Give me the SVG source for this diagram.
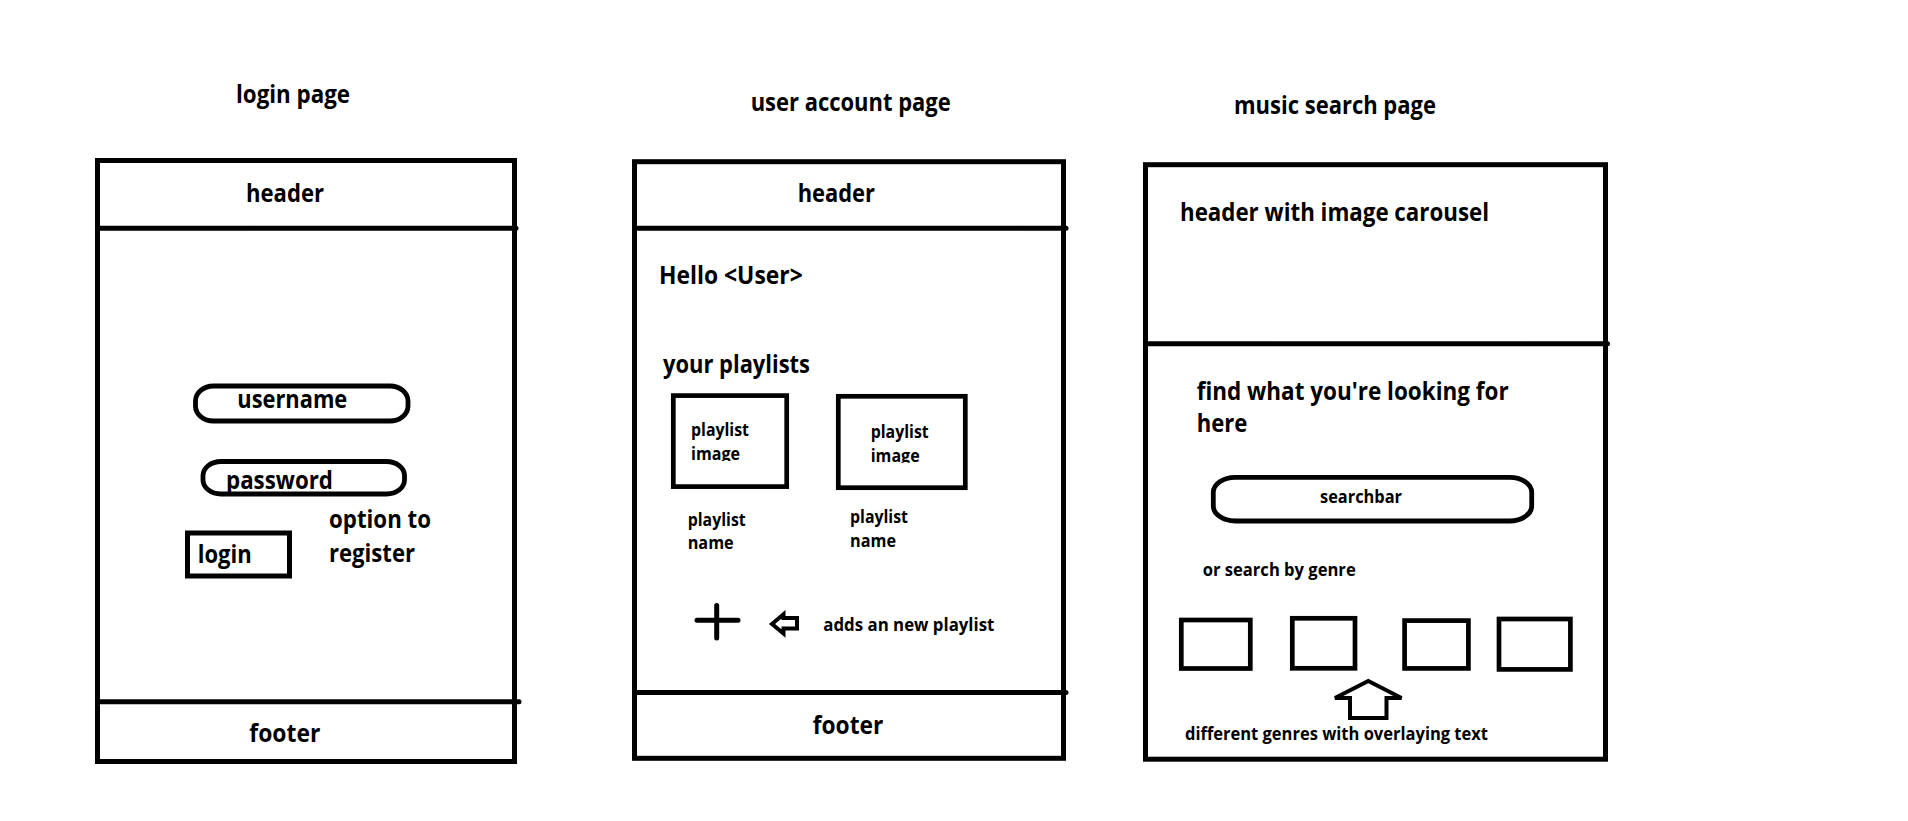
<svg xmlns="http://www.w3.org/2000/svg" width="1908" height="821" viewBox="0 0 1908 821">
  <style>
    .t { font-family: "Open Sans", Lato, "Liberation Sans", sans-serif; font-weight: 700; fill: #000; }
    .lg { font-size: 25px; }
    .sm { font-size: 18.5px; }
    .frame { fill: none; stroke: #000; stroke-width: 5; }
    .div { stroke: #000; stroke-width: 5; stroke-linecap: round; }
    .box { fill: none; stroke: #000; stroke-width: 4.7; }
    .pill { fill: none; stroke: #000; stroke-width: 4.8; }
    .icon { fill: none; stroke: #000; stroke-width: 4; stroke-linejoin: miter; }
  </style>
  <defs>
    <!-- the image labels are cut off just under the baseline -->
    <clipPath id="clipImg1"><rect x="680" y="400" width="100" height="61"/></clipPath>
    <clipPath id="clipImg2"><rect x="845" y="400" width="110" height="62.7"/></clipPath>
  </defs>
  <rect width="1908" height="821" fill="#fff"/>

  <!-- ===== login page ===== -->
  <g id="login-page">
    <text class="t lg" x="236" y="103" textLength="114" lengthAdjust="spacingAndGlyphs">login page</text>
    <g id="login-frame">
      <rect class="frame" x="97.5" y="160.5" width="417" height="601"/>
      <line class="div" x1="97.5" y1="228.3" x2="516" y2="228.3"/>
      <line class="div" x1="97.5" y1="701.7" x2="519" y2="701.7"/>
    </g>
    <g id="login-header">
      <text class="t lg" x="246" y="202" textLength="78" lengthAdjust="spacingAndGlyphs">header</text>
    </g>
    <g id="login-username">
      <rect class="pill" x="195.5" y="386" width="212.5" height="35" rx="18" ry="15"/>
      <text class="t lg" x="237.3" y="407.5" textLength="110" lengthAdjust="spacingAndGlyphs">username</text>
    </g>
    <g id="login-password">
      <rect class="pill" x="203" y="461.5" width="201.5" height="32.5" rx="18" ry="14"/>
      <text class="t lg" x="226" y="489" textLength="107" lengthAdjust="spacingAndGlyphs">password</text>
    </g>
    <g id="login-button">
      <rect class="frame" x="187.5" y="533" width="102" height="43"/>
      <text class="t lg" x="197.7" y="562.5" textLength="54" lengthAdjust="spacingAndGlyphs">login</text>
    </g>
    <g id="login-register">
      <text class="t lg" x="329" y="527.5" textLength="102" lengthAdjust="spacingAndGlyphs">option to</text>
      <text class="t lg" x="329" y="561.8" textLength="86" lengthAdjust="spacingAndGlyphs">register</text>
    </g>
    <g id="login-footer">
      <text class="t lg" x="249.3" y="742.2" textLength="71" lengthAdjust="spacingAndGlyphs">footer</text>
    </g>
  </g>

  <!-- ===== user account page ===== -->
  <g id="account-page">
    <text class="t lg" x="750.7" y="110.5" textLength="200" lengthAdjust="spacingAndGlyphs">user account page</text>
    <g id="account-frame">
      <rect class="frame" x="634.5" y="161.7" width="429" height="596.6"/>
      <line class="div" x1="634.5" y1="228.2" x2="1066" y2="228.2"/>
      <line class="div" x1="634.5" y1="692.5" x2="1066" y2="692.5"/>
    </g>
    <g id="account-header">
      <text class="t lg" x="797.7" y="202" textLength="77.3" lengthAdjust="spacingAndGlyphs">header</text>
    </g>
    <g id="account-greeting">
      <text class="t lg" x="659" y="284" textLength="143.7" lengthAdjust="spacingAndGlyphs">Hello &lt;User&gt;</text>
    </g>
    <g id="account-playlists-title">
      <text class="t lg" x="663" y="372.5" textLength="147" lengthAdjust="spacingAndGlyphs">your playlists</text>
    </g>
    <g id="playlist-1">
      <rect class="box" x="673.3" y="395.6" width="113.4" height="91"/>
      <text class="t sm" x="691" y="435.5" textLength="58" lengthAdjust="spacingAndGlyphs">playlist</text>
      <text class="t sm" x="691" y="460.3" textLength="49" lengthAdjust="spacingAndGlyphs" clip-path="url(#clipImg1)">image</text>
      <text class="t sm" x="687.7" y="525.5" textLength="58" lengthAdjust="spacingAndGlyphs">playlist</text>
      <text class="t sm" x="687.7" y="548.8" textLength="46" lengthAdjust="spacingAndGlyphs">name</text>
    </g>
    <g id="playlist-2">
      <rect class="box" x="838.3" y="396.3" width="127" height="91.4"/>
      <text class="t sm" x="870.7" y="437.8" textLength="58" lengthAdjust="spacingAndGlyphs">playlist</text>
      <text class="t sm" x="870.7" y="462" textLength="49" lengthAdjust="spacingAndGlyphs" clip-path="url(#clipImg2)">image</text>
      <text class="t sm" x="850" y="523.2" textLength="58" lengthAdjust="spacingAndGlyphs">playlist</text>
      <text class="t sm" x="850" y="547.2" textLength="46" lengthAdjust="spacingAndGlyphs">name</text>
    </g>
    <g id="add-playlist">
      <line class="div" x1="697" y1="620.3" x2="738" y2="620.3"/>
      <line class="div" x1="716.7" y1="605.5" x2="716.7" y2="638"/>
      <text class="t sm" x="823.3" y="630.5" textLength="171" lengthAdjust="spacingAndGlyphs">adds an new playlist</text>
    </g>
    <g id="account-footer">
      <text class="t lg" x="812.7" y="733.8" textLength="70.6" lengthAdjust="spacingAndGlyphs">footer</text>
    </g>
  </g>

  <!-- ===== music search page ===== -->
  <g id="search-page">
    <text class="t lg" x="1234" y="113.8" textLength="202" lengthAdjust="spacingAndGlyphs">music search page</text>
    <g id="search-frame">
      <rect class="frame" x="1145.5" y="164.7" width="460" height="594.5"/>
      <line class="div" x1="1145.5" y1="343.7" x2="1607.5" y2="343.7"/>
    </g>
    <g id="search-header">
      <text class="t lg" x="1180" y="221.2" textLength="309" lengthAdjust="spacingAndGlyphs">header with image carousel</text>
    </g>
    <g id="search-prompt">
      <text class="t lg" x="1196.7" y="399.8" textLength="312" lengthAdjust="spacingAndGlyphs">find what you're looking for</text>
      <text class="t lg" x="1196.7" y="431.5" textLength="50.6" lengthAdjust="spacingAndGlyphs">here</text>
    </g>
    <g id="searchbar">
      <rect class="pill" x="1213.3" y="477.3" width="318.4" height="43.7" rx="22" ry="15"/>
      <text class="t sm" x="1320" y="503.2" textLength="82" lengthAdjust="spacingAndGlyphs">searchbar</text>
    </g>
    <g id="genre-label">
      <text class="t sm" x="1202.7" y="575.5" textLength="153" lengthAdjust="spacingAndGlyphs">or search by genre</text>
    </g>
    <g id="genre-1"><rect class="box" x="1181.3" y="620" width="69" height="48.5"/></g>
    <g id="genre-2"><rect class="box" x="1292.3" y="618.3" width="62.7" height="50"/></g>
    <g id="genre-3"><rect class="box" x="1404.6" y="620.6" width="63.8" height="47.8"/></g>
    <g id="genre-4"><rect class="box" x="1499" y="619" width="71.4" height="50.4"/></g>
    <g id="genre-caption">
      <text class="t sm" x="1185" y="739.8" textLength="303" lengthAdjust="spacingAndGlyphs">different genres with overlaying text</text>
    </g>
  </g>

  <!-- ===== block arrows ===== -->
  <g id="connectors">
    <polygon class="icon" points="772,624 783.5,614.3 783.5,618 797,618 797,628.5 783.5,628.5 783.5,633.5"/>
    <polygon class="icon" points="1368.3,681 1401.5,698 1386.5,698 1386.5,718 1350,718 1350,698 1335,698"/>
  </g>
</svg>
